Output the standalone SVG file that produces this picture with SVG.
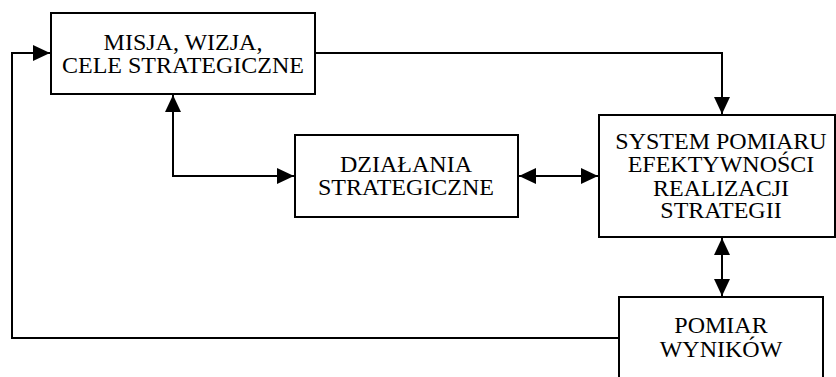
<svg xmlns="http://www.w3.org/2000/svg" width="836" height="377" viewBox="0 0 836 377">
<style>
.box{fill:#fff;stroke:#000;stroke-width:2}
.t{font-family:"Liberation Serif","Times New Roman",serif;font-size:24px;fill:#000;text-anchor:middle}
.c{fill:none;stroke:#000;stroke-width:2}
</style>
<defs>
<marker id="ah" markerUnits="userSpaceOnUse" markerWidth="18" markerHeight="16" refX="17" refY="8" orient="auto-start-reverse">
<path d="M0,0 L17,8 L0,16 z" fill="#000"/>
</marker>
</defs>
<g id="connectors">
<path class="c" d="M619,338 H12 V53 H50" marker-end="url(#ah)"/>
<path class="c" d="M315,53 H722 V114" marker-end="url(#ah)"/>
<path class="c" d="M173,95 V176 H294" marker-start="url(#ah)" marker-end="url(#ah)"/>
<path class="c" d="M519,176 H598" marker-start="url(#ah)" marker-end="url(#ah)"/>
<path class="c" d="M722,238 V296" marker-start="url(#ah)" marker-end="url(#ah)"/>
</g>
<g id="misja">
<rect class="box" x="51" y="13" width="264" height="81"/>
<text class="t" x="183" y="50">MISJA, WIZJA,</text>
<text class="t" x="183" y="73">CELE STRATEGICZNE</text>
</g>
<g id="dzialania">
<rect class="box" x="295" y="135" width="223" height="82"/>
<text class="t" x="406" y="172">DZIAŁANIA</text>
<text class="t" x="406" y="195">STRATEGICZNE</text>
</g>
<g id="system">
<rect class="box" x="599" y="115" width="236" height="122"/>
<text class="t" x="721" y="149">SYSTEM POMIARU</text>
<text class="t" x="721" y="172">EFEKTYWNOŚCI</text>
<text class="t" x="721" y="196">REALIZACJI</text>
<text class="t" x="721" y="218">STRATEGII</text>
</g>
<g id="pomiar">
<rect class="box" x="619" y="297" width="204" height="100"/>
<text class="t" x="721" y="333">POMIAR</text>
<text class="t" x="721" y="357">WYNIKÓW</text>
</g>
</svg>
